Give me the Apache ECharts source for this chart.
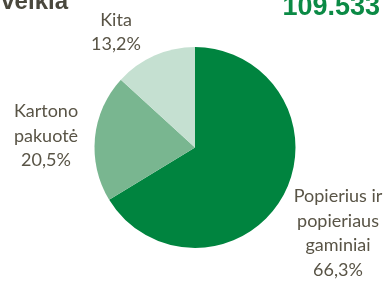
<!DOCTYPE html>
<html lang="lt">
<head>
    <meta charset="UTF-8">
    <title>Pie</title>
    <script src="https://cdn.jsdelivr.net/npm/echarts@6/dist/echarts.min.js"></script>
    <style>
        html, body { margin: 0; padding: 0; background: #fff; }
        #main { width: 389px; height: 281px; }
    </style>
</head>
<body>
    <div id="main"></div>
    <script>
        // duomenys
        var names = ['Popierius ir\npopieriaus\ngaminiai', 'Kartono\npakuotė', 'Kita'];
        var shares = [66.3, 20.5, 13.2];
        var colors = ['#00843f', '#79b690', '#c5e0d1'];
        var headTitle = 'veikla';
        var totalText = '109.533';

        // etikečių centrai (px)
        var labelPos = [[338, 233], [46, 136], [116, 32]];

        var chart = echarts.init(document.getElementById('main'));

        var pieData = names.map(function (n, i) {
            return { name: n, value: shares[i], itemStyle: { color: colors[i] } };
        });

        chart.setOption({
            animation: false,
            graphic: [
                {
                    type: 'text', x: 68, y: 2,
                    style: {
                        text: headTitle, align: 'right', verticalAlign: 'middle',
                        font: 'bold 24px "Liberation Sans"', fill: '#4a483d'
                    }
                },
                {
                    type: 'text', x: 380, y: 8,
                    style: {
                        text: totalText, align: 'right', verticalAlign: 'middle',
                        font: 'bold 27px "Liberation Sans"', fill: '#0b8a45'
                    }
                }
            ],
            series: [{
                type: 'pie',
                center: [195, 147.5],
                radius: 100.5,
                startAngle: 90,
                clockwise: true,
                data: pieData,
                itemStyle: { borderWidth: 0 },
                labelLine: { show: false },
                label: {
                    show: true,
                    position: 'outside',
                    alignTo: 'none',
                    edgeDistance: 0,
                    overflow: 'none',
                    fontFamily: 'Lato',
                    fontSize: 18,
                    lineHeight: 24.5,
                    color: '#595446',
                    align: 'center',
                    formatter: function (p) {
                        return p.name + '\n' + p.value.toFixed(1).replace('.', ',') + '%';
                    }
                },
                labelLayout: function (params) {
                    var pos = labelPos[params.dataIndex];
                    return { x: pos[0], y: pos[1], align: 'center', verticalAlign: 'middle' };
                }
            }]
        });
    </script>
</body>
</html>
